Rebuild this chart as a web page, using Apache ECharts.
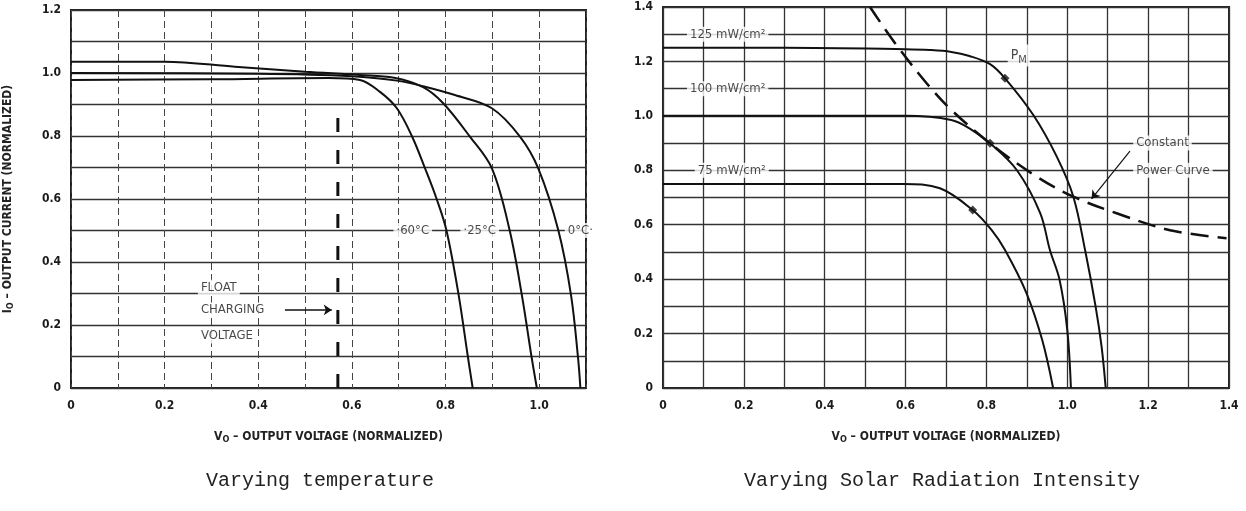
<!DOCTYPE html>
<html>
<head>
<meta charset="utf-8">
<script src="https://cdn.jsdelivr.net/npm/echarts@6/dist/echarts.min.js"></script>
<style>
  html, body { margin: 0; padding: 0; background: #fff; }
  #chart { width: 1246px; height: 511px; }
</style>
</head>
<body>
<div id="chart"></div>
<script>
// left panel : varying temperature  [V, I]
var temp60 = [[0,0.978],[0.3,0.98],[0.55,0.984],[0.617,0.978],[0.66,0.94],[0.696,0.888],[0.728,0.80],[0.756,0.698],[0.781,0.60],[0.802,0.50],[0.828,0.295],[0.848,0.096],[0.858,0]];
var temp25 = [[0,1.036],[0.2,1.036],[0.35,1.02],[0.5,1.004],[0.617,0.994],[0.69,0.985],[0.752,0.955],[0.795,0.904],[0.852,0.798],[0.899,0.697],[0.937,0.50],[0.963,0.295],[0.984,0.096],[0.995,0]];
var temp0 = [[0,1.0],[0.4,0.998],[0.6,0.99],[0.7,0.975],[0.752,0.958],[0.82,0.93],[0.899,0.888],[0.959,0.798],[0.998,0.697],[1.041,0.50],[1.068,0.295],[1.083,0.096],[1.088,0]];
var floatV = [[0.57,0],[0.57,0.87]];
var leftXLabels = ['0','0.2','0.4','0.6','0.8','1.0'];
var leftYLabels = ['0','0.2','0.4','0.6','0.8','1.0','1.2'];

// right panel : varying solar radiation
var rad125 = [[0,1.25],[0.3,1.25],[0.6,1.245],[0.66,1.242],[0.713,1.235],[0.758,1.22],[0.809,1.19],[0.846,1.138],[0.916,1.003],[0.974,0.85],[1.015,0.703],[1.044,0.507],[1.07,0.30],[1.085,0.15],[1.095,0]];
var rad100 = [[0,1.0],[0.6,1.0],[0.713,0.985],[0.758,0.954],[0.809,0.899],[0.875,0.801],[0.933,0.643],[0.957,0.507],[0.981,0.397],[1.0,0.213],[1.009,0]];
var rad75 = [[0,0.75],[0.594,0.75],[0.685,0.734],[0.766,0.654],[0.813,0.58],[0.846,0.507],[0.899,0.349],[0.938,0.176],[0.965,0]];
var powerCurve = [[0.512,1.40],[0.574,1.267],[0.652,1.12],[0.713,1.022],[0.809,0.899],[0.924,0.777],[1.015,0.703],[1.122,0.642],[1.254,0.58],[1.394,0.55]];
var pmPoints = [[0.846,1.138],[0.809,0.899],[0.766,0.654]];
var rightXLabels = ['0','0.2','0.4','0.6','0.8','1.0','1.2','1.4'];
var rightYLabels = ['0','0.2','0.4','0.6','0.8','1.0','1.2','1.4'];

// annotations [V, I, text, align]
var leftNotes = [[0.271,0.32,'FLOAT','left'],[0.271,0.248,'CHARGING','left'],[0.271,0.165,'VOLTAGE','left'],
                 [0.73,0.5,'·60°C','center'],[0.873,0.5,'·25°C','center'],[1.088,0.5,'0°C·','center']];
var rightNotes = [[0.16,1.3,'125 mW/cm²','center'],[0.16,1.1,'100 mW/cm²','center'],[0.17,0.8,'75 mW/cm²','center'],
                  [1.163,0.9,'Constant','left'],[1.163,0.8,'Power Curve','left'],[0.88,1.222,'{p|P}{s|M}','center']];

var condensed = '"DejaVu Sans Condensed", "Liberation Sans Narrow", "DejaVu Sans", sans-serif';

function tickFmt(labels) {
  return function (v) {
    var k = Math.round(v * 10);
    return k % 2 === 0 && labels[k / 2] !== undefined ? labels[k / 2] : '';
  };
}

function notesSeries(notes, idx, size) {
  return {
    type: 'scatter', xAxisIndex: idx, yAxisIndex: idx, symbolSize: 1, silent: true, z: 5,
    itemStyle: { color: 'transparent' },
    data: notes.map(function (n) {
      return { value: [n[0], n[1]], name: n[2], label: { align: n[3] } };
    }),
    label: {
      show: true, position: 'inside', formatter: '{b}',
      fontFamily: condensed, fontSize: size, color: '#1a1a1a',
      backgroundColor: '#fff', padding: [1, 3],
      rich: { p: { fontFamily: condensed, fontSize: size + 1, color: '#1a1a1a' },
              s: { fontFamily: condensed, fontSize: size - 2, color: '#1a1a1a', verticalAlign: 'bottom', padding: [9, 0, 0, 0] } }
    }
  };
}

function curve(data, idx) {
  return { type: 'line', xAxisIndex: idx, yAxisIndex: idx, data: data, showSymbol: false, smooth: 0.35,
           lineStyle: { color: '#111', width: 2 }, z: 4 };
}

var axisName = {
  fontFamily: condensed, fontSize: 12, fontWeight: 'bold', color: '#222',
  rich: { v: { fontFamily: condensed, fontSize: 12, fontWeight: 'bold', color: '#222' },
          s: { fontFamily: condensed, fontSize: 9, fontWeight: 'bold', color: '#222', verticalAlign: 'bottom', padding: [6, 0, 0, 0] } }
};
var tickText = { fontFamily: condensed, fontSize: 12, fontWeight: 'bold', color: '#1a1a1a' };

var chart = echarts.init(document.getElementById('chart'));
var option = {
  animation: false,
  grid: [
    { left: 71, top: 10, width: 515, height: 378, show: true, borderColor: '#222', borderWidth: 2 },
    { left: 663, top: 7, width: 566, height: 381, show: true, borderColor: '#222', borderWidth: 2 }
  ],
  xAxis: [
    { type: 'value', gridIndex: 0, min: 0, max: 1.1, interval: 0.1,
      name: '{v|V}{s|O} – OUTPUT VOLTAGE (NORMALIZED)', nameLocation: 'middle', nameGap: 41, nameTextStyle: axisName,
      axisLine: { show: false }, axisTick: { show: false },
      axisLabel: { formatter: tickFmt(leftXLabels), margin: 12, textStyle: tickText },
      splitLine: { lineStyle: { color: '#444', width: 1, type: [7, 4] } } },
    { type: 'value', gridIndex: 1, min: 0, max: 1.4, interval: 0.1,
      name: '{v|V}{s|O} – OUTPUT VOLTAGE (NORMALIZED)', nameLocation: 'middle', nameGap: 41, nameTextStyle: axisName,
      axisLine: { show: false }, axisTick: { show: false },
      axisLabel: { formatter: tickFmt(rightXLabels), margin: 12, textStyle: tickText },
      splitLine: { lineStyle: { color: '#333', width: 1.3 } } }
  ],
  yAxis: [
    { type: 'value', gridIndex: 0, min: 0, max: 1.2, interval: 0.1,
      name: '{v|I}{s|O} – OUTPUT CURRENT (NORMALIZED)', nameLocation: 'middle', nameGap: 56, nameTextStyle: axisName,
      axisLine: { show: false }, axisTick: { show: false },
      axisLabel: { formatter: tickFmt(leftYLabels), margin: 10, textStyle: tickText },
      splitLine: { lineStyle: { color: '#333', width: 1.4 } } },
    { type: 'value', gridIndex: 1, min: 0, max: 1.4, interval: 0.1,
      axisLine: { show: false }, axisTick: { show: false },
      axisLabel: { formatter: tickFmt(rightYLabels), margin: 10, textStyle: tickText },
      splitLine: { lineStyle: { color: '#333', width: 1.3 } } }
  ],
  graphic: [
    { type: 'text', x: 320, y: 481, style: { text: 'Varying temperature', x: 0, y: 0, align: 'center', verticalAlign: 'middle',
      font: '20px "Liberation Mono", "DejaVu Sans Mono", monospace', fill: '#222' } },
    { type: 'text', x: 942, y: 481, style: { text: 'Varying Solar Radiation Intensity', x: 0, y: 0, align: 'center', verticalAlign: 'middle',
      font: '20px "Liberation Mono", "DejaVu Sans Mono", monospace', fill: '#222' } }
  ],
  series: [
    curve(temp60, 0), curve(temp25, 0), curve(temp0, 0),
    { type: 'line', xAxisIndex: 0, yAxisIndex: 0, data: floatV, showSymbol: false,
      lineStyle: { color: '#111', width: 3, type: [14, 18] }, z: 4,
      markLine: { silent: true, symbol: ['none', 'arrow'], symbolSize: 8, label: { show: false },
        lineStyle: { color: '#111', width: 1.5, type: 'solid' },
        data: [[{ coord: [0.457, 0.248] }, { coord: [0.557, 0.248] }]] } },
    notesSeries(leftNotes, 0, 13),
    curve(rad125, 1), curve(rad100, 1), curve(rad75, 1),
    { type: 'line', xAxisIndex: 1, yAxisIndex: 1, data: powerCurve, showSymbol: false, smooth: 0.35,
      lineStyle: { color: '#111', width: 2.5, type: [18, 9] }, z: 4,
      markLine: { silent: true, symbol: ['none', 'arrow'], symbolSize: 8, label: { show: false },
        lineStyle: { color: '#111', width: 1.2, type: 'solid' },
        data: [[{ coord: [1.155, 0.87] }, { coord: [1.06, 0.695] }]] } },
    { type: 'scatter', xAxisIndex: 1, yAxisIndex: 1, data: pmPoints, symbol: 'diamond', symbolSize: 9,
      itemStyle: { color: '#111' }, z: 6 },
    notesSeries(rightNotes, 1, 13)
  ]
};
chart.setOption(option);
</script>
</body>
</html>
